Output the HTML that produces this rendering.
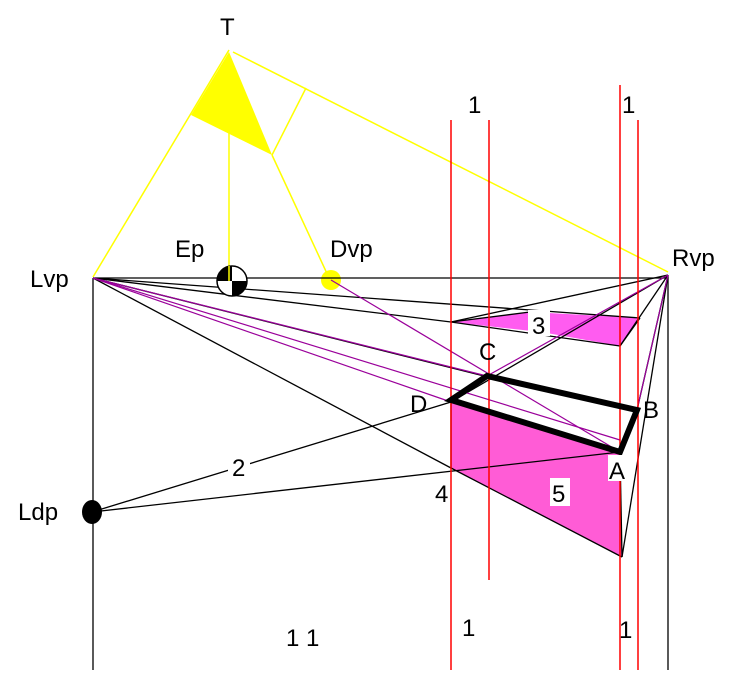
<!DOCTYPE html>
<html><head><meta charset="utf-8"><style>
body{margin:0;background:#fff;width:744px;height:670px;overflow:hidden}
text{font-family:"Liberation Sans",sans-serif;font-size:24px;fill:#000}
</style></head><body>
<svg width="744" height="670" viewBox="0 0 744 670" xmlns="http://www.w3.org/2000/svg">
<polygon points="451,402 620,452 622,557 451,468" fill="#ff5cd6"/>
<polygon points="451,322 530,312 640,318 620,346 541,332" fill="#ff5cf0"/>
<g stroke="#ffff00" stroke-width="1.5" fill="none">
<line x1="229" y1="50" x2="93" y2="277"/>
<line x1="233" y1="52" x2="668" y2="272"/>
<line x1="306" y1="88" x2="272" y2="155"/>
<line x1="272" y1="155" x2="330" y2="280"/>
<line x1="229" y1="120" x2="229" y2="280"/>
</g>
<polygon points="229,52 191,115 272,155" fill="#ffff00"/>
<circle cx="331" cy="280" r="10" fill="#ffff00"/>
<g stroke="#000" stroke-width="1.3" fill="none">
<line x1="93" y1="278" x2="668" y2="278"/>
<line x1="93" y1="278" x2="93" y2="670"/>
<line x1="668" y1="275" x2="668" y2="670"/>
<line x1="93" y1="278" x2="451" y2="468"/>
<line x1="93" y1="278" x2="640" y2="318"/>
<line x1="93" y1="278" x2="451" y2="322"/>
<line x1="451" y1="322" x2="530" y2="312"/>
<line x1="620" y1="346" x2="640" y2="318"/>
<line x1="451" y1="322" x2="620" y2="346"/>
<line x1="668" y1="275" x2="451" y2="322"/>
<line x1="668" y1="275" x2="620" y2="346"/>
<line x1="668" y1="275" x2="451" y2="402"/>
<line x1="668" y1="275" x2="637" y2="410"/>
<line x1="668" y1="275" x2="622" y2="557"/>
<line x1="620" y1="452" x2="622" y2="557"/>
<line x1="451" y1="468" x2="622" y2="557"/>
<line x1="451" y1="400" x2="451" y2="468"/>
<line x1="92" y1="512" x2="451" y2="402"/>
<line x1="92" y1="512" x2="620" y2="452"/>
<line x1="93" y1="278" x2="500" y2="380"/>
</g>
<g stroke="#9a009a" stroke-width="1.2" fill="none">
<line x1="93" y1="278" x2="451" y2="402"/>
<line x1="93" y1="278" x2="487" y2="376"/>
<line x1="331" y1="280" x2="620" y2="452"/>
<line x1="668" y1="275" x2="487" y2="376"/>
<line x1="668" y1="275" x2="637" y2="410"/>
<line x1="93" y1="278" x2="620" y2="440"/>
</g>
<line x1="489" y1="376" x2="489" y2="410" stroke="#ff80ff" stroke-width="1"/>
<g stroke="#ff0000" stroke-width="1.5">
<line x1="451" y1="120" x2="451" y2="670"/>
<line x1="489" y1="120" x2="489" y2="580"/>
<line x1="620" y1="85" x2="620" y2="670"/>
<line x1="638" y1="120" x2="638" y2="670"/>
</g>
<polygon points="451,400 487,376 637,410 620,452" fill="none" stroke="#000" stroke-width="6" stroke-linejoin="miter"/>
<circle cx="232" cy="281" r="15" fill="#fff" stroke="#000" stroke-width="1.5"/>
<path d="M232,281 L232,266 A15,15 0 0,0 217,281 Z" fill="#000"/>
<path d="M232,281 L247,281 A15,15 0 0,1 232,296 Z" fill="#000"/>
<line x1="229" y1="266" x2="229" y2="281" stroke="#ffff00" stroke-width="1.5"/>
<ellipse cx="92" cy="512" rx="10" ry="12" fill="#000"/>
<text x="220" y="35">T</text>
<text x="175" y="257">Ep</text>
<text x="330" y="257">Dvp</text>
<text x="30" y="287">Lvp</text>
<text x="672" y="266">Rvp</text>
<text x="18" y="520">Ldp</text>
<rect x="528" y="310" width="22" height="26" fill="#fff"/>
<text x="532" y="334">3</text>
<text x="479" y="360">C</text>
<text x="410" y="412">D</text>
<text x="643" y="418">B</text>
<rect x="608" y="455" width="22" height="26" fill="#fff"/>
<text x="609" y="479">A</text>
<rect x="550" y="478" width="20" height="28" fill="#fff"/>
<text x="552" y="502">5</text>
<text x="435" y="502">4</text>
<rect x="228" y="452" width="22" height="28" fill="#fff"/>
<text x="232" y="476">2</text>
<text x="468" y="113">1</text>
<text x="622" y="113">1</text>
<text x="462" y="636">1</text>
<text x="619" y="638">1</text>
<text x="286" y="646">1 1</text>
</svg>
</body></html>
